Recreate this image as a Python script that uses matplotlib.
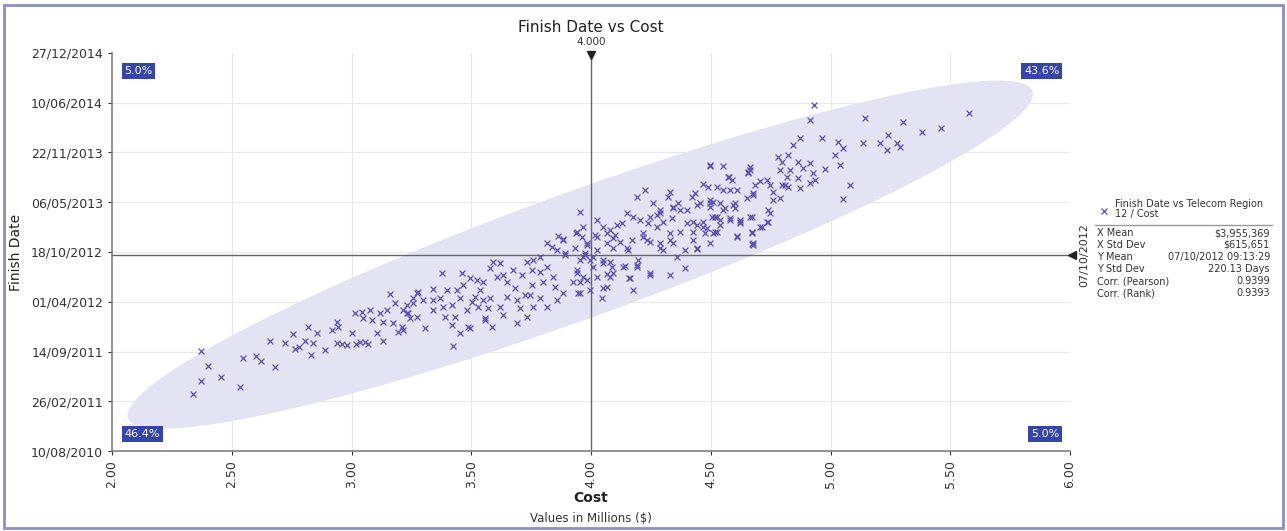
import numpy as np
import matplotlib
matplotlib.use("Agg")
import matplotlib.pyplot as plt
from matplotlib.patches import Polygon, Rectangle
from matplotlib.lines import Line2D
from matplotlib.ticker import FixedLocator, FuncFormatter
import datetime as dt

# --- data ---
# cost in millions ($), finish date as days after 10/08/2010
cost = [
    2.372, 2.401, 2.455, 2.372, 2.338, 2.534, 2.547, 2.601, 2.622, 2.681, 2.660, 2.722, 2.756, 2.764,
    2.781, 2.806, 2.818, 2.839, 2.856, 2.831, 2.889, 2.919, 2.939, 2.944, 2.939, 2.960, 2.981, 3.002,
    3.019, 3.035, 3.056, 3.069, 3.106, 3.131, 3.161, 3.182, 3.015, 3.044, 3.048, 3.077, 3.086, 3.119,
    3.131, 3.148, 3.173, 3.194, 3.211, 3.232, 3.257, 3.273, 3.244,
    3.954, 3.937, 3.862, 3.883, 3.816, 3.837, 3.858, 3.891, 3.787, 3.758, 3.733, 3.962, 3.983, 3.975,
    3.996, 3.954, 3.941, 3.966, 3.925, 3.954, 3.996, 3.883, 3.858, 3.816, 3.787, 3.758, 3.745, 3.754,
    3.787, 3.816, 3.841, 3.850, 3.799, 3.754, 3.712, 3.674, 3.620, 3.591, 3.578, 3.607, 3.633, 3.649,
    3.683, 3.691, 3.703, 3.724, 3.733, 3.691, 3.633, 3.587, 3.557, 3.570, 3.578, 3.549, 3.536, 3.549,
    3.524, 3.495, 3.461, 3.378, 3.465, 3.440, 3.399, 3.340, 3.278, 3.257, 3.232, 3.215, 3.273, 3.236,
    3.298, 3.340, 3.369, 3.382, 3.420, 3.453, 3.503, 3.482, 3.432, 3.390, 3.340, 3.420, 3.486, 3.453,
    3.307, 3.215, 3.516, 3.528, 3.620, 3.649,
    3.424, 3.495, 3.557, 3.946, 4.046, 4.050, 4.175, 4.158, 4.246, 4.330, 4.392, 4.359, 4.442, 4.497,
    4.609, 4.672, 4.672, 4.705, 4.735, 4.133, 4.192, 4.025, 4.067, 4.092, 4.008, 4.050, 4.079, 4.154,
    4.196, 4.092, 4.067, 4.025, 4.067, 4.092, 4.129, 4.175, 4.205, 4.246, 4.288, 4.259, 4.342, 4.372,
    4.442, 4.497, 4.593, 4.526, 4.580, 4.622, 4.484, 4.426, 4.372, 4.330, 4.276, 4.217, 4.234, 4.288,
    4.342, 4.401, 4.442, 4.509, 3.966, 3.966, 4.025, 3.983,
    4.497, 4.551, 4.664, 4.655, 4.576, 4.589, 4.468, 4.488, 4.526, 4.551, 4.580, 4.685, 4.676, 4.651,
    4.601, 4.559, 4.509, 4.497, 4.455, 4.434, 4.422, 4.401, 4.363, 4.330, 4.322, 4.342, 4.288, 4.225,
    4.192, 4.150, 4.238, 4.276, 4.301, 4.338, 4.426, 4.468, 4.518, 4.539, 4.580, 4.622, 4.672, 4.676,
    4.609, 4.526, 4.442, 4.426, 4.392, 4.301, 4.288, 4.330, 4.246, 4.217, 4.171, 4.150, 4.121, 4.100,
    4.079, 4.108, 4.050, 4.025, 4.017, 3.941, 3.883, 3.933, 3.891, 3.983, 3.975, 4.008, 4.050, 4.088,
    4.142, 4.192, 4.246, 4.163, 4.079, 3.941, 3.954, 4.067,
    4.914, 5.144, 5.240, 5.136, 5.207, 5.236, 5.277, 4.964, 4.872, 4.843, 5.031, 5.052, 5.019, 4.822,
    4.781, 4.797, 4.864, 4.914, 4.885, 4.831, 4.789, 4.977, 5.039, 4.927, 4.935, 4.914, 4.864, 4.872,
    4.818, 4.810, 4.822, 4.797, 4.760, 4.789, 4.760, 4.747, 4.735, 4.706, 4.664, 4.655, 4.676, 4.739,
    4.747, 4.714, 4.739, 4.672, 4.676, 4.664, 5.081, 5.052, 4.497, 4.572, 4.610, 4.497, 4.539, 4.601,
    4.551, 4.505, 4.539, 4.622, 4.468, 4.476, 4.518,
    5.578, 5.461, 5.382, 5.303, 5.290, 4.931,
]
finish_days = [
    402, 342, 297, 281, 229, 257, 374, 382, 362, 338, 442, 434, 470, 410,
    418, 442, 498, 434, 474, 386, 406, 486, 519, 498, 434, 430, 426, 474,
    430, 438, 438, 430, 474, 442, 631, 595, 555, 559, 535, 567, 527, 555,
    519, 567, 515, 478, 498, 555, 595, 635, 535,
    961, 876, 864, 852, 836, 820, 808, 796, 780, 768, 760, 860, 836, 796,
    768, 768, 728, 699, 679, 635, 647, 635, 607, 579, 615, 579, 627, 728,
    720, 740, 699, 659, 679, 667, 708, 728, 756, 760, 736, 699, 708, 679,
    655, 607, 575, 627, 539, 515, 547, 498, 527, 575, 615, 607, 647, 679,
    687, 695, 716, 716, 667, 647, 647, 651, 639, 615, 587, 567, 539, 555,
    607, 607, 615, 579, 587, 615, 599, 567, 539, 539, 567, 507, 498, 474,
    494, 486, 619, 579, 579, 619,
    422, 494, 535, 635, 615, 655, 647, 695, 708, 708, 736, 780, 812, 836,
    864, 832, 880, 900, 921, 740, 748, 699, 712, 716, 740, 756, 760, 808,
    768, 816, 836, 860, 876, 856, 917, 941, 929, 941, 957, 997, 981, 969,
    989, 997, 989, 941, 929, 917, 896, 880, 880, 876, 900, 876, 848, 816,
    836, 917, 909, 876, 900, 780, 808, 687,
    1146, 1146, 1142, 1122, 1101, 1089, 1073, 1061, 1061, 1049, 1049, 1069, 1037, 1017,
    997, 977, 1001, 981, 997, 1037, 1021, 969, 997, 1041, 1021, 977, 969, 1049,
    1021, 957, 917, 949, 921, 937, 921, 921, 941, 909, 937, 921, 941, 836,
    860, 880, 816, 848, 808, 808, 836, 848, 840, 860, 848, 816, 840, 868,
    888, 909, 900, 929, 868, 880, 848, 816, 788, 828, 788, 780, 768, 740,
    744, 740, 716, 695, 699, 716, 679, 659,
    1331, 1339, 1270, 1238, 1238, 1210, 1238, 1258, 1258, 1230, 1242, 1218, 1190, 1190,
    1182, 1162, 1162, 1158, 1138, 1130, 1130, 1134, 1150, 1118, 1089, 1077, 1097, 1057,
    1101, 1069, 1061, 1069, 1041, 1017, 1009, 1069, 1089, 1085, 1130, 1118, 1029, 969,
    957, 900, 921, 876, 828, 941, 1069, 1013, 1150, 1101, 1049, 1009, 997, 977,
    969, 941, 929, 929, 900, 876, 880,
    1359, 1298, 1282, 1323, 1222, 1391,
]

base_date = dt.date(2010, 8, 10)
x_mean = 3.955369
y_mean = 789.384  # 07/10/2012 09:13:29
cross_x = 4.0

x_ticks = [2.0, 2.5, 3.0, 3.5, 4.0, 4.5, 5.0, 5.5, 6.0]
y_ticks = [0, 200, 400, 600, 800, 1000, 1200, 1400, 1600]

quadrant_labels = ["5.0%", "43.6%", "46.4%", "5.0%"]

stat_names = ["X Mean", "X Std Dev", "Y Mean", "Y Std Dev", "Corr. (Pearson)", "Corr. (Rank)"]
stat_values = ["$3,955,369", "$615,651", "07/10/2012 09:13:29", "220.13 Days", "0.9399", "0.9393"]

point_col = "#5a50b4"
box_col = "#3545a8"
W, H = 1287, 531

fig = plt.figure(figsize=(W / 100, H / 100), dpi=100)
ax = fig.add_axes([112 / W, 80 / H, 958 / W, 398 / H])

ax.set_xlim(2.0, 6.0)
ax.set_ylim(0, 1600)

# grid
for xt in x_ticks[1:-1]:
    ax.axvline(xt, color="#e8e8e8", lw=0.8, zorder=0)
for yt in y_ticks[1:-1]:
    ax.axhline(yt, color="#e8e8e8", lw=0.8, zorder=0)

# confidence ellipse, sized in screen pixels then mapped to data units
ax_w, ax_h = 958, 398
a_px, b_px, ang = 481, 63, np.deg2rad(19.9)
t = np.linspace(0, 2 * np.pi, 300)
u, v = a_px * np.cos(t), b_px * np.sin(t)
ex = x_mean + (u * np.cos(ang) - v * np.sin(ang)) * 4.0 / ax_w
ey = y_mean + (u * np.sin(ang) + v * np.cos(ang)) * 1600.0 / ax_h
ax.add_patch(Polygon(np.column_stack([ex, ey]), closed=True, facecolor="#e3e3f4",
                     edgecolor="none", zorder=1))

# crosshair
ax.axvline(cross_x, color="#666666", lw=1.0, zorder=2)
ax.plot([2.0, 6.02], [y_mean, y_mean], color="#666666", lw=1.0, zorder=2, clip_on=False)
ax.plot([cross_x], [1592], marker="v", color="#222222", ms=6, clip_on=False, zorder=5)
ax.plot([6.01], [y_mean], marker="<", color="#222222", ms=6, clip_on=False, zorder=5)
ax.text(cross_x, 1625, "4.000", ha="center", va="bottom", fontsize=7.5, color="#333333")
ax.text(6.04, y_mean, "07/10/2012", rotation=90, ha="left", va="center", fontsize=8,
        color="#333333")

ax.scatter(cost, finish_days, marker="x", s=18, c=point_col, linewidths=0.9, zorder=3)

# quadrant boxes
boxkw = dict(boxstyle="square,pad=0.25", facecolor=box_col, edgecolor="none")
ax.text(0.013, 0.955, quadrant_labels[0], transform=ax.transAxes, color="white", fontsize=8,
        ha="left", va="center", bbox=boxkw)
ax.text(0.989, 0.955, quadrant_labels[1], transform=ax.transAxes, color="white", fontsize=8,
        ha="right", va="center", bbox=boxkw)
ax.text(0.013, 0.043, quadrant_labels[2], transform=ax.transAxes, color="white", fontsize=8,
        ha="left", va="center", bbox=boxkw)
ax.text(0.989, 0.043, quadrant_labels[3], transform=ax.transAxes, color="white", fontsize=8,
        ha="right", va="center", bbox=boxkw)

# axes styling
for s in ["top", "right"]:
    ax.spines[s].set_visible(False)
for s in ["left", "bottom"]:
    ax.spines[s].set_color("#808080")
    ax.spines[s].set_linewidth(1.2)
ax.xaxis.set_major_locator(FixedLocator(x_ticks))
ax.xaxis.set_major_formatter(FuncFormatter(lambda v, p: f"{v:.2f}"))
ax.yaxis.set_major_locator(FixedLocator(y_ticks))
ax.yaxis.set_major_formatter(FuncFormatter(
    lambda v, p: (base_date + dt.timedelta(days=int(round(v)))).strftime("%d/%m/%Y")))
ax.tick_params(axis="x", labelrotation=90, labelsize=9, colors="#333333", length=3)
ax.tick_params(axis="y", labelsize=9, colors="#333333", length=3)

ax.set_title("Finish Date vs Cost", fontsize=11, color="#222222", pad=15)
ax.set_ylabel("Finish Date", fontsize=10, color="#222222", labelpad=6)
fig.text(591 / W, 1 - 498 / H, "Cost", ha="center", va="center", fontsize=10,
         color="#222222", fontweight="bold")
fig.text(591 / W, 1 - 519 / H, "Values in Millions ($)", ha="center", va="center",
         fontsize=8.5, color="#333333")

# stats panel
fig.add_artist(Line2D([1104 / W], [1 - 211 / H], marker="x", color=point_col, ms=5, mew=0.9))
fig.text(1115 / W, 1 - 209 / H, "Finish Date vs Telecom Region\n12 / Cost", fontsize=7,
         color="#333333", va="center", ha="left", linespacing=1.0)
fig.add_artist(Line2D([1095 / W, 1272 / W], [1 - 225 / H, 1 - 225 / H], color="#999999", lw=1))
for i, (n, val) in enumerate(zip(stat_names, stat_values)):
    yy = 1 - (233 + 12 * i) / H
    fig.text(1097 / W, yy, n, fontsize=7, color="#333333", va="center", ha="left")
    fig.text(1270 / W, yy, val, fontsize=7, color="#333333", va="center", ha="right")

# outer frame
fig.add_artist(Rectangle((4 / W, 3 / H), (W - 8) / W, (H - 8) / H, transform=fig.transFigure,
                         fill=False, edgecolor="#8a8fc4", lw=2))

fig.savefig("out.png", dpi=100)
